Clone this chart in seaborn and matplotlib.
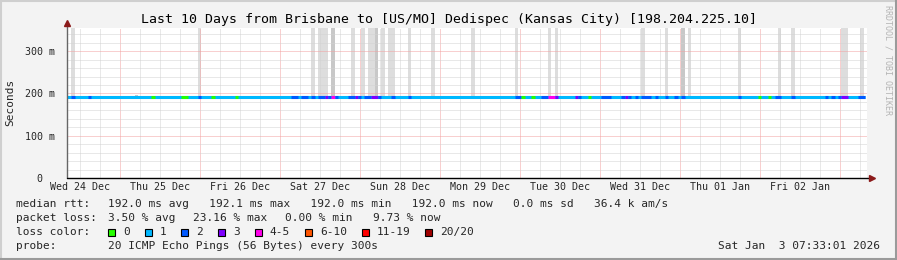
import numpy as np
import pandas as pd
import matplotlib
matplotlib.use("Agg")
import matplotlib.pyplot as plt
import seaborn as sns
from matplotlib.lines import Line2D
from matplotlib.patches import Rectangle

# ---------------- data ----------------
title = "Last 10 Days from Brisbane to [US/MO] Dedispec (Kansas City) [198.204.225.10]"
# hours counted from Wed 24 Dec 00:00
view_start = 8.0
view_end = 248.0
day_labels = ["Wed 24 Dec", "Thu 25 Dec", "Fri 26 Dec", "Sat 27 Dec", "Sun 28 Dec",
              "Mon 29 Dec", "Tue 30 Dec", "Wed 31 Dec", "Thu 01 Jan", "Fri 02 Jan"]
y_ticks = [0.0, 0.1, 0.2, 0.3]
y_tick_labels = ["0  ", "100 m", "200 m", "300 m"]
y_max = 0.355

median_rtt = 0.192          # seconds
base_loss_level = 1         # most of the period shows 1/20 loss

# loss-coloured pieces of the median line: start hour, end hour, loss class index
seg_start = [9.3, 14.4, 33.3, 42.3, 47.4, 51.3, 58.5,
             75.3, 78.3, 81.3, 83.4, 85.5, 86.4, 87.3, 88.5,
             92.4, 94.5, 95.4, 97.2, 99.3, 101.4, 105.3, 110.4,
             142.5, 144.3, 147.3, 150.3, 152.4, 154.5,
             160.5, 161.4, 164.4, 168.3, 174.3, 175.5, 176.4,
             178.5, 180.3, 184.5, 187.5, 190.2, 192.3,
             209.4, 215.4, 218.4, 220.5, 225.3, 235.5, 237.3, 239.4, 240.3, 245.4]
seg_end = [10.5, 15.3, 34.5, 44.4, 48.3, 52.5, 59.4,
           77.4, 80.4, 82.5, 85.5, 86.4, 87.3, 88.5, 89.4,
           94.5, 95.4, 96.3, 99.3, 101.4, 102.3, 106.5, 111.3,
           144.3, 145.5, 148.5, 152.4, 154.5, 155.4,
           161.4, 162.3, 165.3, 171.3, 175.5, 176.4, 177.3,
           179.4, 183.3, 185.4, 188.4, 191.4, 193.5,
           210.3, 216.3, 219.3, 222.3, 226.5, 236.4, 238.5, 240.3, 242.4, 247.5]
seg_level = [2, 2, 0, 0, 2, 0, 0,
             2, 2, 2, 2, 3, 2, 4, 2,
             2, 3, 2, 2, 3, 2, 2, 2,
             2, 0, 0, 2, 4, 3,
             3, 2, 0, 2, 2, 3, 2,
             2, 2, 2, 2, 2, 2,
             2, 0, 0, 2, 2, 2, 2, 2, 3, 2]

# smoke (rtt spread) bars: start hour, end hour, low/high rtt (s), density (0 light, 1 dark)
smoke_start = [9.3, 28.5, 47.4, 81.3, 83.4, 87.3, 93.3, 96.3, 98.4, 100.5, 102.3, 104.4,
               110.4, 117.3, 129.3, 142.5, 152.4, 154.5, 180.3, 187.5, 192.3, 194.4,
               209.4, 221.4, 225.3, 240.3, 246.0]
smoke_end = [10.5, 29.4, 48.3, 82.5, 86.4, 88.5, 94.5, 97.5, 100.5, 101.4, 103.5, 106.5,
             111.3, 118.5, 130.5, 143.4, 153.3, 155.4, 181.5, 188.4, 193.5, 195.3,
             210.3, 222.3, 226.5, 242.4, 247.2]
smoke_low = [0.194] * 27
smoke_high = [0.40, 0.197] + [0.40] * 25
smoke_density = [0, 1, 0, 0, 0, 1, 0, 0, 0, 1, 0, 0,
                 0, 0, 0, 0, 0, 0, 0, 0, 1, 0,
                 0, 0, 0, 0, 0]

loss_labels = ["0", "1", "2", "3", "4-5", "6-10", "11-19", "20/20"]
loss_colors = ["#26ff00", "#00b8ff", "#0059ff", "#7e00ff", "#ff00ea", "#ff5500", "#ff0000", "#a00000"]

rtt_line = "192.0 ms avg   192.1 ms max   192.0 ms min   192.0 ms now   0.0 ms sd   36.4 k am/s"
loss_items = ["3.50 % avg", "23.16 % max", "0.00 % min", "9.73 % now"]
probe_text = "20 ICMP Echo Pings (56 Bytes) every 300s"
stamp_text = "Sat Jan  3 07:33:01 2026"
watermark = "RRDTOOL / TOBI OETIKER"

# ---------------- style ----------------
sns.set_theme(style="white")
plt.rcParams["font.family"] = ["DejaVu Sans Mono", "DejaVu Sans"]
BG = "#f3f3f3"
W, H = 897, 260

fig = plt.figure(figsize=(W / 100, H / 100), dpi=100, facecolor=BG)
ax = fig.add_axes([67 / W, (H - 178) / H, 800 / W, 150 / H])
ax.set_facecolor("white")
for s in ax.spines.values():
    s.set_visible(False)

def fx(px):
    return px / W

def fy(py):
    return 1 - py / H

# grid
minor_col = "#d2d2d2"
major_col = "#f3a0a0"
gkw = dict(lw=0.72, dashes=(1, 1), zorder=3)
for h in np.arange(6, view_end, 6):
    if h <= view_start:
        continue
    major = (h % 24 == 0)
    ax.axvline(h, color=major_col if major else minor_col, **gkw)
for v in np.arange(0.02, y_max, 0.02):
    major = abs(v * 10 - round(v * 10)) < 1e-6
    ax.axhline(v, color=major_col if major else minor_col, **gkw)

# smoke bars
shades = ["#dddddd", "#c8c8c8"]
ax.bar(smoke_start, np.array(smoke_high) - np.array(smoke_low),
       width=np.array(smoke_end) - np.array(smoke_start), bottom=smoke_low,
       align="edge", color=[shades[d] for d in smoke_density], linewidth=0, zorder=2)

# median line: base colour then loss-coloured pieces
base = pd.DataFrame({"hour": [view_start, view_end - 0.5], "rtt": [median_rtt, median_rtt]})
sns.lineplot(data=base, x="hour", y="rtt", ax=ax, color=loss_colors[base_loss_level],
             lw=2.2, solid_capstyle="butt", zorder=5)
ax.hlines([median_rtt] * len(seg_start), seg_start, seg_end,
          colors=[loss_colors[l] for l in seg_level], lw=2.2, zorder=6)

ax.set_xlim(view_start, view_end)
ax.set_ylim(0, y_max)
ax.set_xlabel("")
ax.set_ylabel("")
ax.set_xticks([12 + 24 * i for i in range(len(day_labels))])
ax.set_xticklabels(day_labels, fontsize=7.2)
ax.set_yticks(y_ticks)
ax.set_yticklabels(y_tick_labels, fontsize=7.2)
ax.tick_params(axis="x", length=0, pad=3.0)
ax.tick_params(axis="y", length=0, pad=8.4)

# axes lines and arrows
arrow_col = "#8b1a1a"
ax.add_line(Line2D([0, 0], [0, 1.03], transform=ax.transAxes, color="#666666", lw=1.0, clip_on=False, zorder=7))
ax.add_line(Line2D([0, 1.004], [0, 0], transform=ax.transAxes, color="#000000", lw=1.0, clip_on=False, zorder=7))
ax.plot([0], [1.035], marker="^", ms=4.5, color=arrow_col, transform=ax.transAxes, clip_on=False, zorder=8)
ax.plot([1.006], [0], marker=">", ms=4.5, color=arrow_col, transform=ax.transAxes, clip_on=False, zorder=8)

# title / labels
fig.text(0.5, fy(19), title, ha="center", va="center", fontsize=9.55, color="black")
fig.text(fx(10), fy(102), "Seconds", rotation=90, ha="center", va="center", fontsize=8.0)
fig.text(fx(888), fy(5), watermark, rotation=-90, ha="center", va="top", fontsize=6.0, color="#b4b4b4")

# legend block
LF = 8.0
CW = 6.7
fig.text(fx(16), fy(204), "median rtt:", ha="left", va="center", fontsize=LF)
fig.text(fx(108), fy(204), rtt_line, ha="left", va="center", fontsize=LF)
fig.text(fx(16), fy(218), "packet loss:", ha="left", va="center", fontsize=LF)
for txt, px in zip(loss_items, [108, 193, 285, 373]):
    fig.text(fx(px), fy(218), txt, ha="left", va="center", fontsize=LF)
fig.text(fx(16), fy(232), "loss color:", ha="left", va="center", fontsize=LF)
bx = 108
for lab, col in zip(loss_labels, loss_colors):
    fig.add_artist(Rectangle((fx(bx), fy(235.5)), 7 / W, 7 / H, transform=fig.transFigure,
                             facecolor=col, edgecolor="black", lw=0.8))
    fig.text(fx(bx + 15), fy(232), lab, ha="left", va="center", fontsize=LF)
    bx = bx + 15 + len(lab) * CW + 15
fig.text(fx(16), fy(246), "probe:", ha="left", va="center", fontsize=LF)
fig.text(fx(108), fy(246), probe_text, ha="left", va="center", fontsize=LF)
fig.text(fx(880), fy(246), stamp_text, ha="right", va="center", fontsize=LF)

# frame
fig.add_artist(Line2D([0, 1], [1 - 1 / H, 1 - 1 / H], transform=fig.transFigure, color="#cfcfcf", lw=1.5))
fig.add_artist(Line2D([0.5 / W, 0.5 / W], [0, 1], transform=fig.transFigure, color="#cfcfcf", lw=1.5))
fig.add_artist(Line2D([0, 1], [1 / H, 1 / H], transform=fig.transFigure, color="#9a9a9a", lw=1.5))
fig.add_artist(Line2D([1 - 1 / W, 1 - 1 / W], [0, 1], transform=fig.transFigure, color="#9a9a9a", lw=1.5))

fig.savefig("out.png", dpi=100, facecolor=BG)
